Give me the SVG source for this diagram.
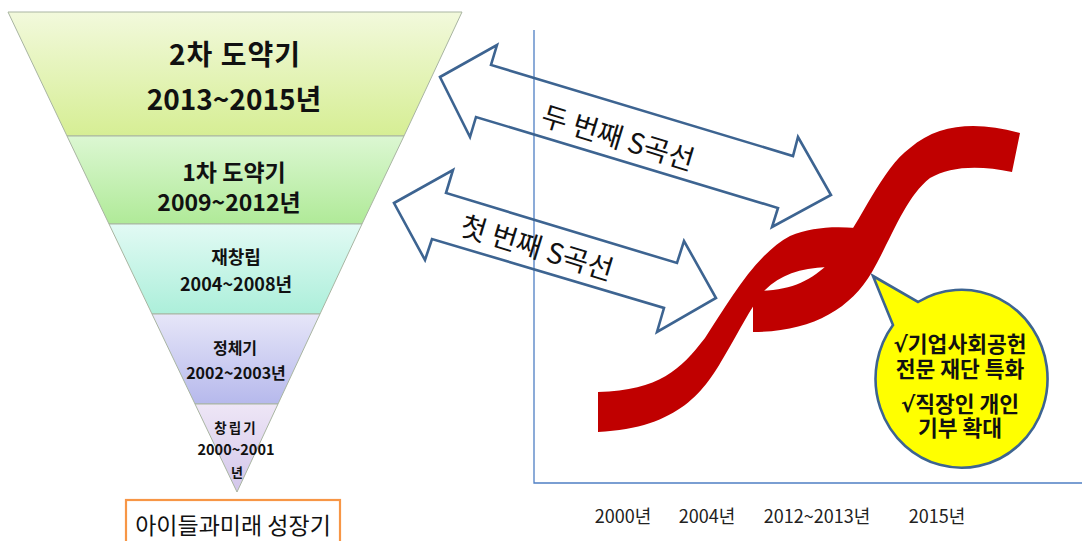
<svg xmlns="http://www.w3.org/2000/svg" width="1082" height="541" viewBox="0 0 1082 541">
<defs>
<linearGradient id="g1" x1="0" y1="0" x2="0" y2="1"><stop offset="0" stop-color="#f2f9dc"/><stop offset="1" stop-color="#d6ee94"/></linearGradient>
<linearGradient id="g2" x1="0" y1="0" x2="0" y2="1"><stop offset="0" stop-color="#dcf7d2"/><stop offset="1" stop-color="#b0ea98"/></linearGradient>
<linearGradient id="g3" x1="0" y1="0" x2="0" y2="1"><stop offset="0" stop-color="#e2faf4"/><stop offset="1" stop-color="#acefda"/></linearGradient>
<linearGradient id="g4" x1="0" y1="0" x2="0" y2="1"><stop offset="0" stop-color="#e6e6f8"/><stop offset="1" stop-color="#b6b9ec"/></linearGradient>
<linearGradient id="g5" x1="0" y1="0" x2="0" y2="1"><stop offset="0" stop-color="#eee6f6"/><stop offset="1" stop-color="#d2c6ea"/></linearGradient>
</defs>
<style>
text{font-family:"Noto Sans CJK KR","Noto Sans",sans-serif;fill:#111;text-anchor:middle}
.seg{stroke:#a9b5a2;stroke-width:1}
.b{font-weight:bold}
.arrow{fill:none;stroke:#3d6491;stroke-width:2.6;stroke-linejoin:miter}
.axis{stroke:#4f7fc4;stroke-width:1.3;fill:none}
.red{fill:#c00000}
.lbl{font-size:18px;fill:#222}
.at{font-size:28px}
.bub{font-size:21.5px;font-weight:bold}
.chk{font-family:"DejaVu Sans",sans-serif;font-weight:bold}
</style>

<g id="axes" class="axis">
<path d="M534,30 V483 H1082"/>
</g>

<g id="funnel-seg1"><polygon class="seg" fill="url(#g1)" points="8,12 462,12 404,136 67,136"/>
<text class="b" x="235" y="65" font-size="28" letter-spacing="1">2차 도약기</text>
<text class="b" x="234" y="110" font-size="28">2013~2015년</text></g>
<g id="funnel-seg2"><polygon class="seg" fill="url(#g2)" points="67,136 404,136 362,224 109,224"/>
<text class="b" x="234" y="181" font-size="23">1차 도약기</text>
<text class="b" x="229" y="211" font-size="23">2009~2012년</text></g>
<g id="funnel-seg3"><polygon class="seg" fill="url(#g3)" points="109,224 362,224 320,314 152,314"/>
<text class="b" x="236" y="264" font-size="18">재창립</text>
<text class="b" x="236" y="291" font-size="18">2004~2008년</text></g>
<g id="funnel-seg4"><polygon class="seg" fill="url(#g4)" points="152,314 320,314 278,404 195,404"/>
<text class="b" x="235" y="354" font-size="16">정체기</text>
<text class="b" x="236" y="379" font-size="16">2002~2003년</text></g>
<g id="funnel-seg5"><polygon class="seg" fill="url(#g5)" points="195,404 278,404 237,492"/>
<text class="b" x="236" y="433" font-size="13.5" letter-spacing="2">창립기</text>
<text class="b" x="236" y="455" font-size="14.5">2000~2001</text>
<text class="b" x="237" y="477" font-size="13">년</text></g>

<g id="title-box">
<rect x="126" y="500" width="214" height="50" fill="#fff" stroke="#f79646" stroke-width="2.2"/>
<text x="233" y="534" font-size="23">아이들과미래 성장기</text>
</g>

<g id="s-curves">
<path class="red" d="M598,392 C660,390 680,370 705,338 C730,300 755,255 790,236 C810,228 830,226 856,228 L856,268 L827,267 C800,268 780,275 765,290 C750,308 740,330 725,355 C705,390 680,428 598,432 Z"/>
<path class="red" d="M753,291 C790,291 810,282 830,262 C860,225 880,170 910,148 C940,122 980,122 1020,133 L1012,172 C980,165 950,166 930,178 C905,198 893,235 872,272 C850,310 810,332 753,332 Z"/>
</g>

<g id="connectors">
<polygon class="arrow" points="440,77 497,45 491,65 793,156 798,137 831,195 772,227 778,208 476,117 470,137"/>
<polygon class="arrow" points="394,203 453,170 446,193 677,263 684,241 716,298 657,332 664,308 432,239 425,260"/>
<text class="at" transform="translate(618,138) rotate(17)" y="10">두 번째 S곡선</text>
<text class="at" transform="translate(537,248) rotate(17)" y="10">첫 번째 S곡선</text>
</g>

<g id="callout">
<path d="M873,276 L918,302 A86,89 0 1 1 893,325 Z" fill="#ffff00" stroke="#3d6491" stroke-width="2.6" stroke-linejoin="miter"/>
<text class="bub" x="960" y="352"><tspan class="chk">√</tspan>기업사회공헌</text>
<text class="bub" x="960" y="377">전문 재단 특화</text>
<text class="bub" x="960" y="412"><tspan class="chk">√</tspan>직장인 개인</text>
<text class="bub" x="960" y="436">기부 확대</text>
</g>

<g id="axis-labels">
<text class="lbl" x="623" y="523">2000년</text>
<text class="lbl" x="707" y="523">2004년</text>
<text class="lbl" x="817" y="523" font-size="18.5">2012~2013년</text>
<text class="lbl" x="937" y="523">2015년</text>
</g>
</svg>
